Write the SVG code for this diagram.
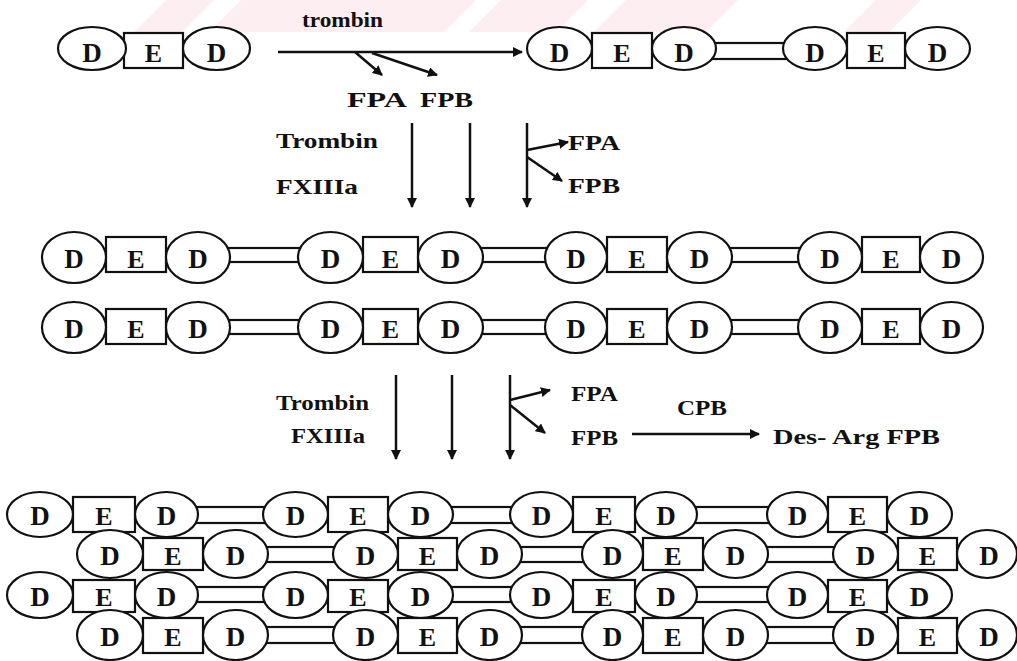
<svg xmlns="http://www.w3.org/2000/svg" width="1017" height="661" viewBox="0 0 1017 661">
<style>
.bg{fill:#ffffff}
.wm{fill:#fdeef1}
.ov{fill:#ffffff;stroke:#111;stroke-width:2.2}
.bx{fill:#ffffff;stroke:#111;stroke-width:2.2}
.lk{fill:#ffffff;stroke:#111;stroke-width:2.2}
.d{font-family:"Liberation Serif","Times New Roman",serif;font-weight:bold;font-size:27px;text-anchor:middle;fill:#111}
.e{font-family:"Liberation Serif","Times New Roman",serif;font-weight:bold;font-size:26px;text-anchor:middle;fill:#111}
.lb{font-family:"Liberation Serif","Times New Roman",serif;font-weight:bold;font-size:22px;fill:#111}
.ar{stroke:#111;stroke-width:2.5;fill:none;marker-end:url(#ah)}
</style>
<defs>
<marker id="ah" viewBox="0 0 10 10" refX="9" refY="5" markerWidth="10" markerHeight="10" markerUnits="userSpaceOnUse" orient="auto">
<path d="M0,0 L10,5 L0,10 z" fill="#111"/>
</marker>
</defs>
<rect class="bg" x="0" y="0" width="1017" height="661"/>
<g id="watermark">
<polygon class="wm" points="166,0 214,0 182,32 134,32"/>
<polygon class="wm" points="241,0 476,0 444,32 209,32"/>
<polygon class="wm" points="501,0 588,0 556,32 469,32"/>
<polygon class="wm" points="626,0 738,0 706,32 594,32"/>
<polygon class="wm" points="876,0 921,0 889,32 844,32"/>
</g>

<g id="connectors">
<rect class="lk" x="690" y="43" width="120" height="16"/>
<rect class="lk" x="198" y="248" width="133" height="14"/>
<rect class="lk" x="450" y="248" width="126" height="14"/>
<rect class="lk" x="699" y="248" width="131" height="14"/>
<rect class="lk" x="198" y="320" width="133" height="14"/>
<rect class="lk" x="450" y="320" width="126" height="14"/>
<rect class="lk" x="699" y="320" width="131" height="14"/>
<rect class="lk" x="166" y="507" width="130" height="16"/>
<rect class="lk" x="420" y="507" width="122" height="16"/>
<rect class="lk" x="666" y="507" width="132" height="16"/>
<rect class="lk" x="235" y="547" width="130" height="15"/>
<rect class="lk" x="489" y="547" width="124" height="15"/>
<rect class="lk" x="735" y="547" width="130" height="15"/>
<rect class="lk" x="166" y="587" width="130" height="15"/>
<rect class="lk" x="420" y="587" width="122" height="15"/>
<rect class="lk" x="666" y="587" width="132" height="15"/>
<rect class="lk" x="235" y="627" width="130" height="16"/>
<rect class="lk" x="489" y="627" width="124" height="16"/>
<rect class="lk" x="735" y="627" width="130" height="16"/>
<line class="ar" x1="278" y1="52" x2="522" y2="52"/>
<line class="ar" x1="355" y1="52" x2="382" y2="75"/>
<line class="ar" x1="372" y1="53" x2="437" y2="75"/>
<line class="ar" x1="412" y1="123" x2="412" y2="207"/>
<line class="ar" x1="470" y1="123" x2="470" y2="207"/>
<line class="ar" x1="527" y1="123" x2="527" y2="207"/>
<line class="ar" x1="527" y1="150" x2="568" y2="142"/>
<line class="ar" x1="527" y1="157" x2="562" y2="181"/>
<line class="ar" x1="396" y1="375" x2="396" y2="459"/>
<line class="ar" x1="452" y1="375" x2="452" y2="459"/>
<line class="ar" x1="510" y1="375" x2="510" y2="459"/>
<line class="ar" x1="510" y1="400" x2="550" y2="390"/>
<line class="ar" x1="510" y1="405" x2="545" y2="433"/>
<line class="ar" x1="632" y1="434" x2="759" y2="434"/>
</g>

<g id="labels">
<text class="lb" x="302" y="27" font-size="23" textLength="81" lengthAdjust="spacingAndGlyphs">trombin</text>
<text class="lb" x="347" y="107" textLength="60" lengthAdjust="spacingAndGlyphs">FPA</text>
<text class="lb" x="420" y="107" textLength="53" lengthAdjust="spacingAndGlyphs">FPB</text>
<text class="lb" x="276" y="148" textLength="102" lengthAdjust="spacingAndGlyphs">Trombin</text>
<text class="lb" x="276" y="194" textLength="82" lengthAdjust="spacingAndGlyphs">FXIIIa</text>
<text class="lb" x="568" y="150" textLength="52" lengthAdjust="spacingAndGlyphs">FPA</text>
<text class="lb" x="568" y="193" textLength="52" lengthAdjust="spacingAndGlyphs">FPB</text>
<text class="lb" x="276" y="410" textLength="93" lengthAdjust="spacingAndGlyphs">Trombin</text>
<text class="lb" x="291" y="443" textLength="74" lengthAdjust="spacingAndGlyphs">FXIIIa</text>
<text class="lb" x="571" y="401" textLength="47" lengthAdjust="spacingAndGlyphs">FPA</text>
<text class="lb" x="571" y="445" textLength="47" lengthAdjust="spacingAndGlyphs">FPB</text>
<text class="lb" x="677" y="415" textLength="50" lengthAdjust="spacingAndGlyphs">CPB</text>
<text class="lb" x="773" y="444" textLength="167" lengthAdjust="spacingAndGlyphs">Des- Arg  FPB</text>
</g>

<g id="t1">
<rect class="bx" x="124" y="33" width="59" height="35"/>
<ellipse class="ov" cx="92" cy="48.5" rx="34" ry="21.5"/>
<ellipse class="ov" cx="216.5" cy="48.5" rx="33.5" ry="21.5"/>
<text class="d" x="92" y="62">D</text><text class="e" x="153.5" y="62">E</text><text class="d" x="216.5" y="62">D</text>
</g>
<g id="t2">
<rect class="bx" x="592" y="33" width="60" height="35"/>
<ellipse class="ov" cx="559.5" cy="48.5" rx="32.5" ry="21.5"/>
<ellipse class="ov" cx="684" cy="48.5" rx="32" ry="21.5"/>
<text class="d" x="559.5" y="62">D</text><text class="e" x="622" y="62">E</text><text class="d" x="684" y="62">D</text>
</g>
<g id="t3">
<rect class="bx" x="847" y="33" width="58" height="35"/>
<ellipse class="ov" cx="815" cy="48.5" rx="32" ry="21.5"/>
<ellipse class="ov" cx="937.5" cy="48.5" rx="32.5" ry="21.5"/>
<text class="d" x="815" y="62">D</text><text class="e" x="876" y="62">E</text><text class="d" x="937.5" y="62">D</text>
</g>

<g id="r2u1">
<rect class="bx" x="106" y="237" width="60" height="35"/>
<ellipse class="ov" cx="74" cy="257.5" rx="32" ry="25.5"/>
<ellipse class="ov" cx="198" cy="257.5" rx="32" ry="25.5"/>
<text class="d" x="74" y="268">D</text><text class="e" x="136" y="268">E</text><text class="d" x="198" y="268">D</text>
</g>
<g id="r2u2">
<rect class="bx" x="363" y="237" width="55" height="35"/>
<ellipse class="ov" cx="330.5" cy="257.5" rx="32.5" ry="25.5"/>
<ellipse class="ov" cx="450.5" cy="257.5" rx="32.5" ry="25.5"/>
<text class="d" x="330.5" y="268">D</text><text class="e" x="390.5" y="268">E</text><text class="d" x="450.5" y="268">D</text>
</g>
<g id="r2u3">
<rect class="bx" x="607" y="237" width="60" height="35"/>
<ellipse class="ov" cx="576" cy="257.5" rx="31" ry="25.5"/>
<ellipse class="ov" cx="699.5" cy="257.5" rx="32.5" ry="25.5"/>
<text class="d" x="576" y="268">D</text><text class="e" x="637" y="268">E</text><text class="d" x="699.5" y="268">D</text>
</g>
<g id="r2u4">
<rect class="bx" x="862" y="237" width="58" height="35"/>
<ellipse class="ov" cx="830" cy="257.5" rx="32" ry="25.5"/>
<ellipse class="ov" cx="951.5" cy="257.5" rx="31.5" ry="25.5"/>
<text class="d" x="830" y="268">D</text><text class="e" x="891" y="268">E</text><text class="d" x="951.5" y="268">D</text>
</g>

<g id="r3u1">
<rect class="bx" x="106" y="309" width="60" height="35"/>
<ellipse class="ov" cx="74" cy="327.5" rx="32" ry="25.5"/>
<ellipse class="ov" cx="198" cy="327.5" rx="32" ry="25.5"/>
<text class="d" x="74" y="338">D</text><text class="e" x="136" y="338">E</text><text class="d" x="198" y="338">D</text>
</g>
<g id="r3u2">
<rect class="bx" x="363" y="309" width="55" height="35"/>
<ellipse class="ov" cx="330.5" cy="327.5" rx="32.5" ry="25.5"/>
<ellipse class="ov" cx="450.5" cy="327.5" rx="32.5" ry="25.5"/>
<text class="d" x="330.5" y="338">D</text><text class="e" x="390.5" y="338">E</text><text class="d" x="450.5" y="338">D</text>
</g>
<g id="r3u3">
<rect class="bx" x="607" y="309" width="60" height="35"/>
<ellipse class="ov" cx="576" cy="327.5" rx="31" ry="25.5"/>
<ellipse class="ov" cx="699.5" cy="327.5" rx="32.5" ry="25.5"/>
<text class="d" x="576" y="338">D</text><text class="e" x="637" y="338">E</text><text class="d" x="699.5" y="338">D</text>
</g>
<g id="r3u4">
<rect class="bx" x="862" y="309" width="58" height="35"/>
<ellipse class="ov" cx="830" cy="327.5" rx="32" ry="25.5"/>
<ellipse class="ov" cx="951.5" cy="327.5" rx="31.5" ry="25.5"/>
<text class="d" x="830" y="338">D</text><text class="e" x="891" y="338">E</text><text class="d" x="951.5" y="338">D</text>
</g>

<g id="rau1">
<rect class="bx" x="73" y="497" width="62" height="35"/>
<ellipse class="ov" cx="40" cy="514.5" rx="33" ry="22.5"/>
<ellipse class="ov" cx="166.5" cy="514.5" rx="31.5" ry="22.5"/>
<text class="d" x="40" y="525">D</text><text class="e" x="104" y="525">E</text><text class="d" x="166.5" y="525">D</text>
</g>
<g id="rau2">
<rect class="bx" x="328" y="497" width="60" height="35"/>
<ellipse class="ov" cx="295.5" cy="514.5" rx="32.5" ry="22.5"/>
<ellipse class="ov" cx="420.5" cy="514.5" rx="32.5" ry="22.5"/>
<text class="d" x="295.5" y="525">D</text><text class="e" x="358" y="525">E</text><text class="d" x="420.5" y="525">D</text>
</g>
<g id="rau3">
<rect class="bx" x="573" y="497" width="62" height="35"/>
<ellipse class="ov" cx="541.5" cy="514.5" rx="31.5" ry="22.5"/>
<ellipse class="ov" cx="666" cy="514.5" rx="31" ry="22.5"/>
<text class="d" x="541.5" y="525">D</text><text class="e" x="604" y="525">E</text><text class="d" x="666" y="525">D</text>
</g>
<g id="rau4">
<rect class="bx" x="828" y="497" width="59" height="35"/>
<ellipse class="ov" cx="797.5" cy="514.5" rx="30.5" ry="22.5"/>
<ellipse class="ov" cx="919.5" cy="514.5" rx="32.5" ry="22.5"/>
<text class="d" x="797.5" y="525">D</text><text class="e" x="857.5" y="525">E</text><text class="d" x="919.5" y="525">D</text>
</g>

<g id="rbu1">
<rect class="bx" x="143" y="538" width="60" height="32"/>
<ellipse class="ov" cx="110" cy="554" rx="33" ry="24"/>
<ellipse class="ov" cx="235.5" cy="554" rx="32.5" ry="24"/>
<text class="d" x="110" y="565">D</text><text class="e" x="173" y="565">E</text><text class="d" x="235.5" y="565">D</text>
</g>
<g id="rbu2">
<rect class="bx" x="398" y="538" width="59" height="32"/>
<ellipse class="ov" cx="365.5" cy="554" rx="32.5" ry="24"/>
<ellipse class="ov" cx="489.5" cy="554" rx="32.5" ry="24"/>
<text class="d" x="365.5" y="565">D</text><text class="e" x="427.5" y="565">E</text><text class="d" x="489.5" y="565">D</text>
</g>
<g id="rbu3">
<rect class="bx" x="643" y="538" width="60" height="32"/>
<ellipse class="ov" cx="612.5" cy="554" rx="30.5" ry="24"/>
<ellipse class="ov" cx="735.5" cy="554" rx="32.5" ry="24"/>
<text class="d" x="612.5" y="565">D</text><text class="e" x="673" y="565">E</text><text class="d" x="735.5" y="565">D</text>
</g>
<g id="rbu4">
<rect class="bx" x="898" y="538" width="59" height="32"/>
<ellipse class="ov" cx="865.5" cy="554" rx="32.5" ry="24"/>
<ellipse class="ov" cx="987" cy="554" rx="30" ry="24"/>
<text class="d" x="865.5" y="565">D</text><text class="e" x="927.5" y="565">E</text><text class="d" x="989" y="565">D</text>
</g>

<g id="rcu1">
<rect class="bx" x="73" y="580" width="62" height="32"/>
<ellipse class="ov" cx="40" cy="595" rx="33" ry="23"/>
<ellipse class="ov" cx="166.5" cy="595" rx="31.5" ry="23"/>
<text class="d" x="40" y="606">D</text><text class="e" x="104" y="606">E</text><text class="d" x="166.5" y="606">D</text>
</g>
<g id="rcu2">
<rect class="bx" x="328" y="580" width="60" height="32"/>
<ellipse class="ov" cx="295.5" cy="595" rx="32.5" ry="23"/>
<ellipse class="ov" cx="420.5" cy="595" rx="32.5" ry="23"/>
<text class="d" x="295.5" y="606">D</text><text class="e" x="358" y="606">E</text><text class="d" x="420.5" y="606">D</text>
</g>
<g id="rcu3">
<rect class="bx" x="573" y="580" width="62" height="32"/>
<ellipse class="ov" cx="541.5" cy="595" rx="31.5" ry="23"/>
<ellipse class="ov" cx="666" cy="595" rx="31" ry="23"/>
<text class="d" x="541.5" y="606">D</text><text class="e" x="604" y="606">E</text><text class="d" x="666" y="606">D</text>
</g>
<g id="rcu4">
<rect class="bx" x="828" y="580" width="59" height="32"/>
<ellipse class="ov" cx="797.5" cy="595" rx="30.5" ry="23"/>
<ellipse class="ov" cx="919.5" cy="595" rx="32.5" ry="23"/>
<text class="d" x="797.5" y="606">D</text><text class="e" x="857.5" y="606">E</text><text class="d" x="919.5" y="606">D</text>
</g>

<g id="rdu1">
<rect class="bx" x="143" y="618" width="60" height="35"/>
<ellipse class="ov" cx="110" cy="635" rx="33" ry="25"/>
<ellipse class="ov" cx="235.5" cy="635" rx="32.5" ry="25"/>
<text class="d" x="110" y="646">D</text><text class="e" x="173" y="646">E</text><text class="d" x="235.5" y="646">D</text>
</g>
<g id="rdu2">
<rect class="bx" x="398" y="618" width="59" height="35"/>
<ellipse class="ov" cx="365.5" cy="635" rx="32.5" ry="25"/>
<ellipse class="ov" cx="489.5" cy="635" rx="32.5" ry="25"/>
<text class="d" x="365.5" y="646">D</text><text class="e" x="427.5" y="646">E</text><text class="d" x="489.5" y="646">D</text>
</g>
<g id="rdu3">
<rect class="bx" x="643" y="618" width="60" height="35"/>
<ellipse class="ov" cx="612.5" cy="635" rx="30.5" ry="25"/>
<ellipse class="ov" cx="735.5" cy="635" rx="32.5" ry="25"/>
<text class="d" x="612.5" y="646">D</text><text class="e" x="673" y="646">E</text><text class="d" x="735.5" y="646">D</text>
</g>
<g id="rdu4">
<rect class="bx" x="898" y="618" width="59" height="35"/>
<ellipse class="ov" cx="865.5" cy="635" rx="32.5" ry="25"/>
<ellipse class="ov" cx="987" cy="635" rx="30" ry="25"/>
<text class="d" x="865.5" y="646">D</text><text class="e" x="927.5" y="646">E</text><text class="d" x="989" y="646">D</text>
</g>
</svg>
